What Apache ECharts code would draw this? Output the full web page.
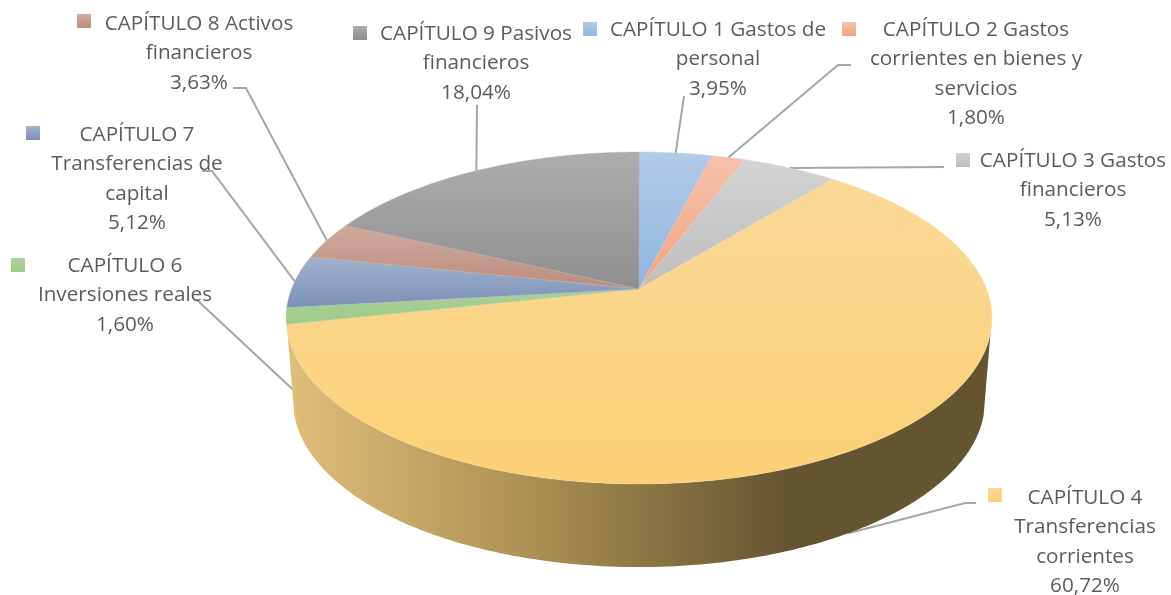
<!DOCTYPE html>
<html>
<head>
<meta charset="utf-8">
<style>html,body{margin:0;padding:0;background:#fff}#c{width:1171px;height:595px}</style>
<script src="https://cdn.jsdelivr.net/npm/echarts@6/dist/echarts.min.js"></script>
</head>
<body>
<div id="c"></div>
<script>
// ---- data ----
const categories = [
  'CAPÍTULO 1 Gastos de\npersonal',
  'CAPÍTULO 2 Gastos\ncorrientes en bienes y\nservicios',
  'CAPÍTULO 3 Gastos\nfinancieros',
  'CAPÍTULO 4\nTransferencias\ncorrientes',
  'CAPÍTULO 6\nInversiones reales',
  'CAPÍTULO 7\nTransferencias de\ncapital',
  'CAPÍTULO 8 Activos\nfinancieros',
  'CAPÍTULO 9 Pasivos\nfinancieros'
];
const values = [3.95, 1.80, 5.13, 60.72, 1.60, 5.12, 3.63, 18.04];

// ---- styling ----
const colorsLight = ['#b2cbe7','#f5c2aa','#d3d3d3','#fad897','#abd09b','#a2b3cd','#d0aa9e','#adadad'];
const colorsDark  = ['#90b5de','#f0a480','#bebebe','#fcd076','#9ccb88','#7a90b6','#bb8c7d','#8f8f8f'];
const TEXT = '#5c5c5c', LEAD = '#a6a6a6', FONT = '20.7px "Open Sans"';
const LINE_H = 29.5;

// ---- layout (perspective disc, label boxes) ----
const K = 0.1747;
const TOP = {cx:639, cy:289, a:347.5, b:160.9};
const BOT = {cx:639, cy:372, a:340.6, b:161};
// label: centre x, first line centre y, key-square left/top, leader elbow points, leader depth (0 top rim, 1 base rim)
const labelLayout = [
  {x:718,  y:30,  kx:583, ky:22,  lead:[[684,96]],              f:0},
  {x:976,  y:30,  kx:842, ky:22,  lead:[[851,65],[838,65]],     f:0},
  {x:1073, y:161, kx:956, ky:153, lead:[[944,167]],             f:0},
  {x:1085, y:498, kx:988, ky:488, lead:[[976,503],[965,503]],   f:1},
  {x:125,  y:266, kx:11,  ky:258, lead:[[197,300]],             f:0.88},
  {x:137,  y:135, kx:26,  ky:126, lead:[[202,171],[212,171]],   f:0},
  {x:199,  y:24,  kx:77,  ky:14,  lead:[[233,88],[246,88]],     f:0},
  {x:476,  y:34,  kx:353, ky:26,  lead:[[477,105]],             f:0}
];
const SIDE_FROM = 105, SIDE_TO = 255; // visible wall, degrees clockwise from the far point
const KEY = 14;

const total = values.reduce((s,v)=>s+v,0);
const starts = []; values.reduce((s,v,i)=>(starts[i]=s, s+v),0);

function project(plane, deg, r) {
  r = r === undefined ? 1 : r;
  const t = deg*Math.PI/180, u = r*Math.sin(t), v = -r*Math.cos(t), d = 1-K*v;
  return [plane.cx + plane.a*u/d, plane.cy + plane.b*v/d];
}
function grad(a,b){return {type:'linear',x:0,y:0,x2:0,y2:1,colorStops:[{offset:0,color:a},{offset:1,color:b}]};}

function renderItem(params, api) {
  const i = params.dataIndex, val = api.value(0);
  const a0 = starts[i]/total*360, a1 = (starts[i]+val)/total*360, mid = (a0+a1)/2;
  const children = [];

  // leader line, beneath the pie
  const pt = project(TOP,mid), pb = project(BOT,mid), L = labelLayout[i];
  const end = [pt[0]+(pb[0]-pt[0])*L.f, pt[1]+(pb[1]-pt[1])*L.f];
  children.push({type:'polyline', z2:1, shape:{points:L.lead.concat([end])},
    style:{stroke:LEAD, lineWidth:2, fill:null}});

  // outer wall of the large slice
  if (a0 < SIDE_FROM && a1 > SIDE_TO) {
    const pts = [];
    for (let d=SIDE_FROM; d<=SIDE_TO; d+=1) pts.push(project(TOP,d));
    for (let d=SIDE_TO; d>=SIDE_FROM; d-=1) pts.push(project(BOT,d));
    children.push({type:'polygon', z2:2, shape:{points:pts}, style:{
      fill:{type:'linear',global:true,x:290,y:0,x2:790,y2:0,colorStops:[
        {offset:0,color:'#dfbe78'},{offset:0.5,color:'#a98e52'},{offset:1,color:'#645430'}]}}});
  }

  // top face
  const pts = [[TOP.cx,TOP.cy]];
  for (let d=a0; d<a1; d+=0.5) pts.push(project(TOP,d));
  pts.push(project(TOP,a1));
  const fill = grad(colorsLight[i],colorsDark[i]);
  children.push({type:'polygon', z2:3, shape:{points:pts}, style:{fill:fill, stroke:colorsLight[i], lineWidth:0.4}});

  // label
  children.push({type:'rect', z2:5, shape:{x:L.kx,y:L.ky,width:KEY,height:KEY}, style:{fill:fill}});
  children.push({type:'text', z2:6, style:{
    text: categories[i] + '\n' + val.toFixed(2).replace('.',',') + '%',
    x:L.x, y:L.y-LINE_H/2, align:'center', verticalAlign:'top',
    font:FONT, lineHeight:LINE_H, fill:TEXT}});
  return {type:'group', children};
}

const chart = echarts.init(document.getElementById('c'), null, {renderer:'canvas'});
chart.setOption({
  animation:false,
  backgroundColor:'#ffffff',
  textStyle:{fontFamily:'Open Sans'},
  series:[{
    type:'custom',
    coordinateSystem:'none',
    silent:true,
    renderItem,
    data:categories.map((c,i)=>({name:c,value:[values[i]]}))
  }]
});
</script>
</body>
</html>
